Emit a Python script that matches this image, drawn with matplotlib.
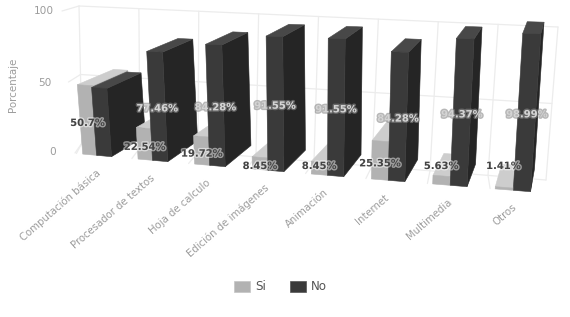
import matplotlib
matplotlib.use("Agg")
import matplotlib.pyplot as plt
import matplotlib.patheffects as pe
from matplotlib.patches import Polygon, Rectangle

categories = ["Computación básica", "Procesador de textos", "Hoja de calculo",
              "Edición de imágenes", "Animación", "Internet", "Multimedia", "Otros"]
si_values = [50.7, 22.54, 19.72, 8.45, 8.45, 25.35, 5.63, 1.41]
no_values = [49.3, 77.46, 84.28, 91.55, 91.55, 84.28, 94.37, 98.99]
yticks = [0, 50, 100]

GRID = "#ececec"; TXT = "#9c9c9c"
SI = ("#b2b2b2", "#cdcdcd", "#a2a2a2")   # front, top, side
NO = ("#3a3a3a", "#484848", "#252525")
BAR_W = 0.27; DEPTH = 0.0713
VX, VY = 586.0, -130.0

def si_off(i):
    return -(0.25 + 0.005*i)

def proj(u, v, d=0.0):
    xb = 104 + 55.5*u + 0.6*u*u
    x = 310 + (xb-310)*(1 + 0.00047*v)
    y = 156 + 5*u - v*(1.38 + 0.03*u)
    return (x + d*(VX-x), y + d*(VY-y))

# back wall: bilinear from corners
TL, TR, BL, BR = (79, 6), (558, 27), (82, 143), (546, 180)
def wall(s, v):
    t = v/100
    top = (TL[0]+(TR[0]-TL[0])*s, TL[1]+(TR[1]-TL[1])*s)
    bot = (BL[0]+(BR[0]-BL[0])*s, BL[1]+(BR[1]-BL[1])*s)
    return (bot[0]+(top[0]-bot[0])*t, bot[1]+(top[1]-bot[1])*t)

fig = plt.figure(figsize=(5.7, 3.17), dpi=100)
ax = fig.add_axes([0, 0, 1, 1])
ax.set_xlim(0, 570); ax.set_ylim(317, 0); ax.axis("off")

n = len(categories)
def line(a, b, z=1):
    ax.plot([a[0], b[0]], [a[1], b[1]], color=GRID, lw=0.9, zorder=z, solid_capstyle="round")

# grid on back wall, side wall and floor
for val in yticks:
    line(wall(0, val), wall(1, val))
    a = wall(0, val)
    line(a, (a[0]-17+(100-val)*0.1, a[1]+5+(100-val)*0.05))
for i in range(n+1):
    s = i/n
    line(wall(s, 0), wall(s, 100))
    if i < n:
        line(wall(s, 0), proj(i-0.5, 0, 0))

def bar(u, v, cols, z):
    l, r = u-BAR_W/2, u+BAR_W/2
    front = [proj(l, 0), proj(r, 0), proj(r, v), proj(l, v)]
    side = [proj(r, 0), proj(r, 0, DEPTH), proj(r, v, DEPTH), proj(r, v)]
    top = [proj(l, v), proj(r, v), proj(r, v, DEPTH), proj(l, v, DEPTH)]
    for pts, c, dz in ((side, cols[2], 0), (top, cols[1], 0.1), (front, cols[0], 0.2)):
        ax.add_patch(Polygon(pts, closed=True, fc=c, ec=c, lw=0.4, zorder=z+dz))

for i in range(n):
    bar(i+si_off(i), si_values[i], SI, 3+i*2)
    bar(i, no_values[i], NO, 3.5+i*2)

LBL = dict(ha="center", va="center", fontsize=7.2, fontweight="bold", zorder=60)
for i in range(n):
    px, py = proj(i+si_off(i), si_values[i]/2)
    ax.text(px, min(py+3, 166), f"{si_values[i]:g}%", color="#444444",
            path_effects=[pe.withStroke(linewidth=2.0, foreground="#ffffff", alpha=0.5)], **LBL)
    if i > 0:
        px, py = proj(i, no_values[i]/2)
        ax.text(px, py+2, f"{no_values[i]:g}%", color="#d4d4d4",
                path_effects=[pe.withStroke(linewidth=2.0, foreground="#888888", alpha=0.6)], **LBL)

for i, c in enumerate(categories):
    ax.text(99 + 53.5*i + 0.85*i*i, 172 + 4.8*i, c, rotation=41, rotation_mode="anchor",
            ha="right", va="center", color=TXT, fontsize=7.3)

for val, x, y in zip(yticks, (53, 45, 44), (152, 83, 11)):
    ax.text(x, y, str(val), ha="center", va="center", color=TXT, fontsize=7.6)
ax.text(13, 85, "Porcentaje", rotation=90, ha="center", va="center", color=TXT, fontsize=7.4)

ax.add_patch(Rectangle((234, 281), 16, 11, fc="#b2b2b2", ec="#c4c4c4", lw=0.5, zorder=5))
ax.text(255, 286.5, "Si", color="#555555", fontsize=8.6, va="center")
ax.add_patch(Rectangle((290, 281), 16, 11, fc="#3a3a3a", ec="#555555", lw=0.5, zorder=5))
ax.text(311, 286.5, "No", color="#555555", fontsize=8.6, va="center")

fig.savefig("out.png", dpi=100)
